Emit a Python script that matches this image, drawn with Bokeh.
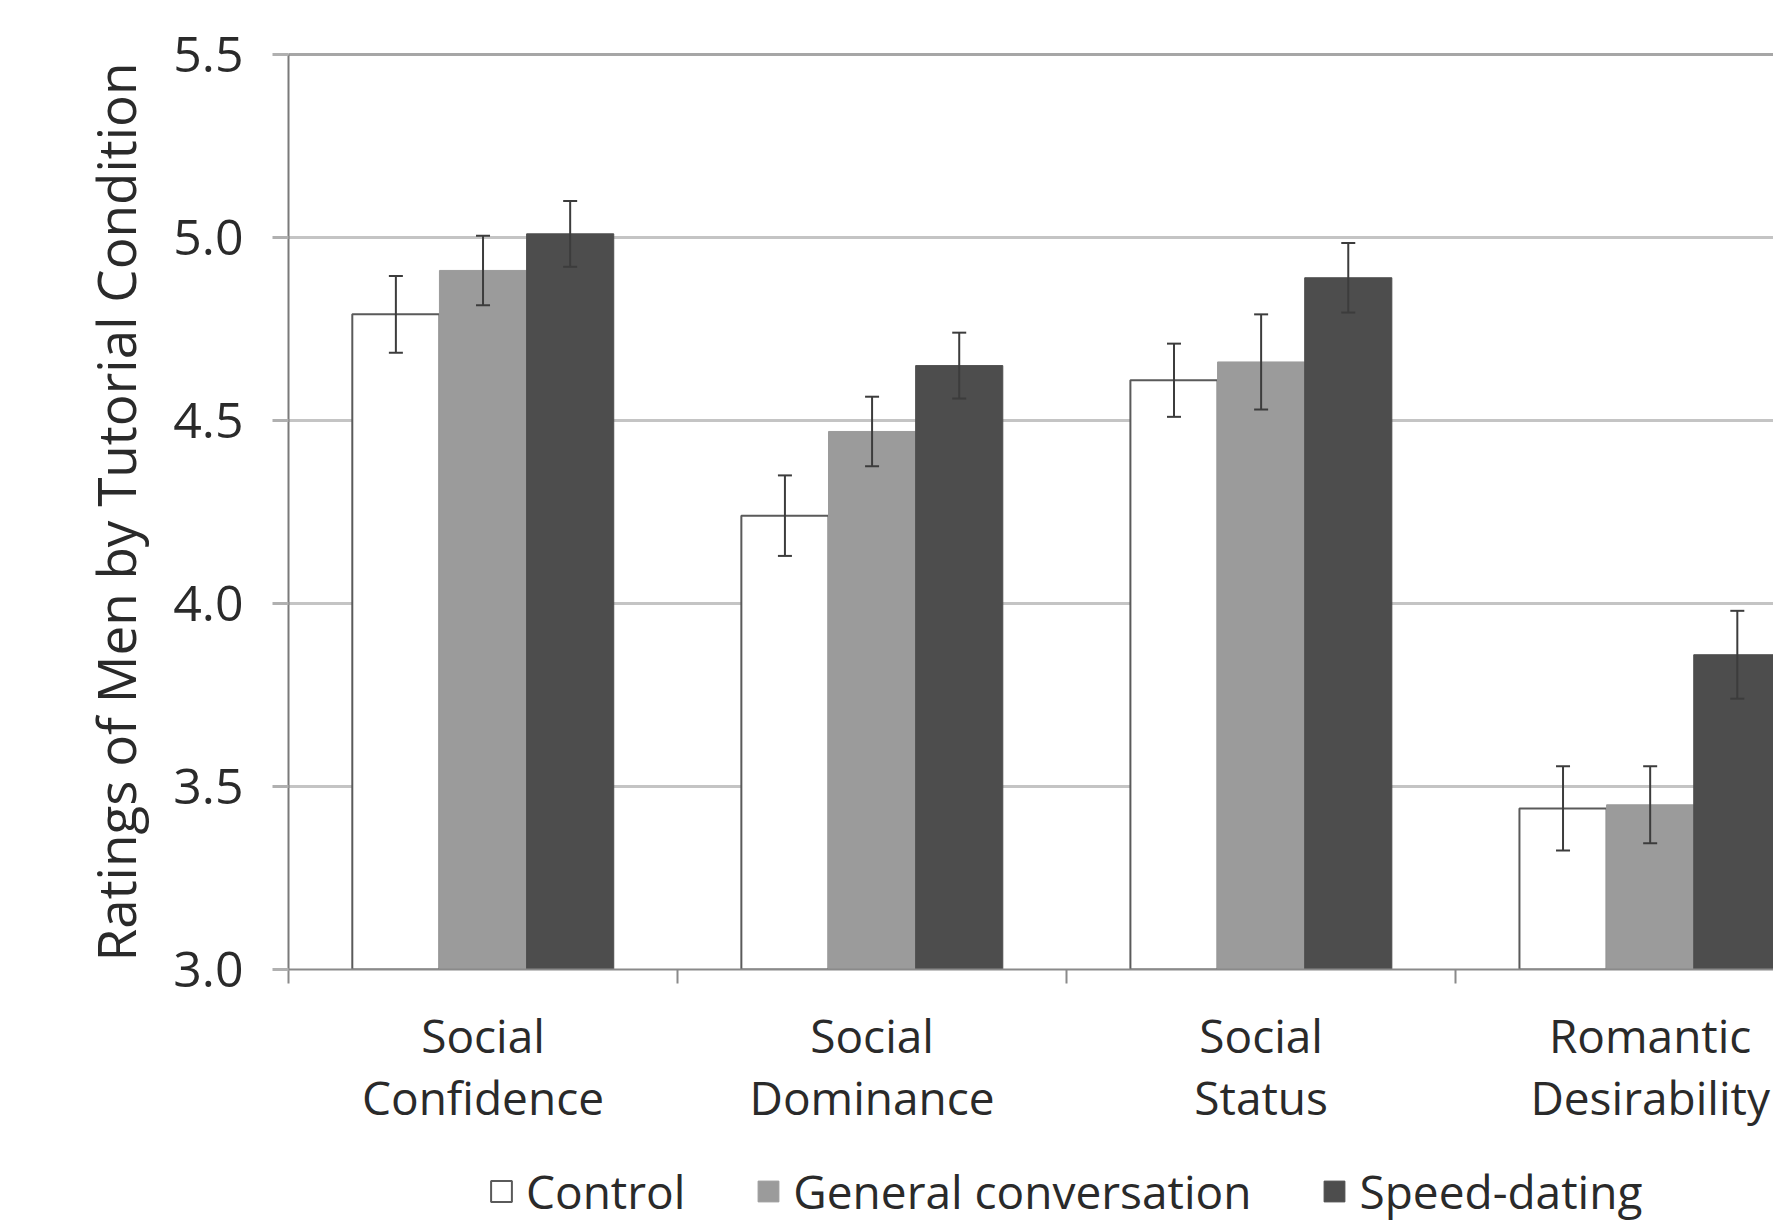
from bokeh.plotting import figure
from bokeh.layouts import column
from bokeh.models import (ColumnDataSource, Range1d, FixedTicker, LinearAxis, Whisker,
                          TeeHead, Legend, LegendItem, NumeralTickFormatter)
from bokeh.embed import file_html
from bokeh.resources import INLINE

categories = ["Social Confidence", "Social Dominance", "Social Status", "Romantic Desirability"]
series = ["Control", "General conversation", "Speed-dating"]
control = [4.79, 4.24, 4.61, 3.44]
general = [4.91, 4.47, 4.66, 3.45]
speed = [5.01, 4.65, 4.89, 3.86]
control_err = [0.105, 0.11, 0.10, 0.115]
general_err = [0.095, 0.095, 0.13, 0.105]
speed_err = [0.09, 0.09, 0.095, 0.12]
y_ticks = [3.0, 3.5, 4.0, 4.5, 5.0, 5.5]

FONT = "Open Sans"
TEXT = "#2a2a2a"
BAR_W = 0.224
offsets = [-BAR_W, 0.0, BAR_W]
fills = ["#ffffff", "#9b9b9b", "#4d4d4d"]
outlines = ["#5a5a5a", "#9b9b9b", "#4d4d4d"]

p = figure(frame_width=1485, frame_height=915, x_range=Range1d(0, 3.817), y_range=Range1d(3.0, 5.5),
           output_backend="svg", toolbar_location=None,
           min_border_left=288, min_border_right=0, min_border_top=54, min_border_bottom=175)
p.outline_line_color = None
p.background_fill_color = "#ffffff"
p.border_fill_color = "#ffffff"

# y axis
p.yaxis.ticker = FixedTicker(ticks=y_ticks)
p.yaxis.formatter = NumeralTickFormatter(format="0.0")
p.yaxis.axis_line_color = "#7a7a7a"
p.yaxis.axis_line_width = 2
p.yaxis.major_tick_line_color = "#b0b0b0"
p.yaxis.major_tick_line_width = 3
p.yaxis.major_tick_out = 16
p.yaxis.major_tick_in = 0
p.yaxis.minor_tick_line_color = None
p.yaxis.major_label_text_font = FONT
p.yaxis.major_label_text_font_size = "50px"
p.yaxis.major_label_text_color = TEXT
p.yaxis.major_label_standoff = 29
p.yaxis.axis_label = "Ratings of Men by Tutorial Condition"
p.yaxis.axis_label_text_font = FONT
p.yaxis.axis_label_text_font_size = "53px"
p.yaxis.axis_label_text_font_style = "normal"
p.yaxis.axis_label_text_color = TEXT
p.yaxis.axis_label_standoff = 18

# x axis: first line of category names
centers = [i + 0.5 for i in range(len(categories))]
bounds = [float(i) for i in range(len(categories))]
line1 = [c.split(" ", 1)[0] for c in categories]
line2 = [c.split(" ", 1)[1] for c in categories]
p.xaxis.ticker = FixedTicker(ticks=centers, minor_ticks=bounds)
p.xaxis.major_label_overrides = {c: lab for c, lab in zip(centers, line1)}
p.xaxis.major_tick_line_color = None
p.xaxis.major_tick_out = 0
p.xaxis.major_tick_in = 0
p.xaxis.minor_tick_line_color = "#8a8a8a"
p.xaxis.minor_tick_line_width = 2
p.xaxis.minor_tick_out = 14
p.xaxis.minor_tick_in = 0
p.xaxis.axis_line_color = "#8a8a8a"
p.xaxis.axis_line_width = 2
p.xaxis.major_label_text_font = FONT
p.xaxis.major_label_text_font_size = "46px"
p.xaxis.major_label_text_color = TEXT
p.xaxis.major_label_standoff = 20

# second line of category names
x2 = LinearAxis(ticker=FixedTicker(ticks=centers),
                major_label_overrides={c: lab for c, lab in zip(centers, line2)},
                axis_line_color=None, major_tick_line_color=None, minor_tick_line_color=None,
                major_tick_out=0, major_tick_in=0, minor_tick_out=0,
                major_label_text_font=FONT, major_label_text_font_size="46px",
                major_label_text_color=TEXT, major_label_standoff=-3)
p.add_layout(x2, "below")

top_axis = LinearAxis(ticker=FixedTicker(ticks=[]), axis_line_color="#a6a6a6", axis_line_width=3,
                      major_label_text_font_size="0px", major_tick_line_color=None,
                      minor_tick_line_color=None)
p.add_layout(top_axis, "above")

p.xgrid.grid_line_color = None
p.ygrid.ticker = FixedTicker(ticks=y_ticks)
p.ygrid.grid_line_color = "#c4c4c4"
p.ygrid.grid_line_width = 3

values = [control, general, speed]
errors = [control_err, general_err, speed_err]
sources = []
for k in range(3):
    xs = [c + offsets[k] for c in centers]
    src = ColumnDataSource(dict(x=xs, top=values[k],
                                upper=[v + e for v, e in zip(values[k], errors[k])],
                                lower=[v - e for v, e in zip(values[k], errors[k])]))
    sources.append(src)
    p.vbar(x="x", top="top", bottom=3.0, width=BAR_W, source=src,
           fill_color=fills[k], line_color=outlines[k], line_width=2 if k == 0 else 1)
    w = Whisker(base="x", upper="upper", lower="lower", source=src, level="overlay",
                line_color="#3c3c3c", line_width=2,
                upper_head=TeeHead(size=14, line_color="#3c3c3c", line_width=2),
                lower_head=TeeHead(size=14, line_color="#3c3c3c", line_width=2))
    p.add_layout(w)

# legend strip below the chart (its bar renderers are hidden; only the legend shows)
lf = figure(width=1773, height=80, x_range=Range1d(0, 3.817), y_range=Range1d(3.0, 5.5),
            output_backend="svg", toolbar_location=None,
            min_border_left=0, min_border_right=0, min_border_top=0, min_border_bottom=0)
lf.axis.visible = False
lf.grid.visible = False
lf.outline_line_color = None
lf.background_fill_color = "#ffffff"
lf.border_fill_color = "#ffffff"
items = []
for k in range(3):
    r = lf.vbar(x="x", top="top", bottom=3.0, width=BAR_W, source=sources[k],
                fill_color=fills[k], line_color=outlines[k], line_width=2 if k == 0 else 1)
    r.visible = False
    items.append(LegendItem(label=series[k], renderers=[r]))
legend = Legend(items=items, orientation="horizontal", location=(200, 2), border_line_color=None,
                background_fill_alpha=0, label_text_font=FONT, label_text_font_size="46px",
                label_text_color=TEXT, glyph_width=26, glyph_height=26, label_standoff=12,
                spacing=70, padding=0, margin=0, inactive_fill_alpha=0)
lf.add_layout(legend, "center")

open("out.html", "w").write(file_html(column(p, lf, spacing=0), INLINE))
